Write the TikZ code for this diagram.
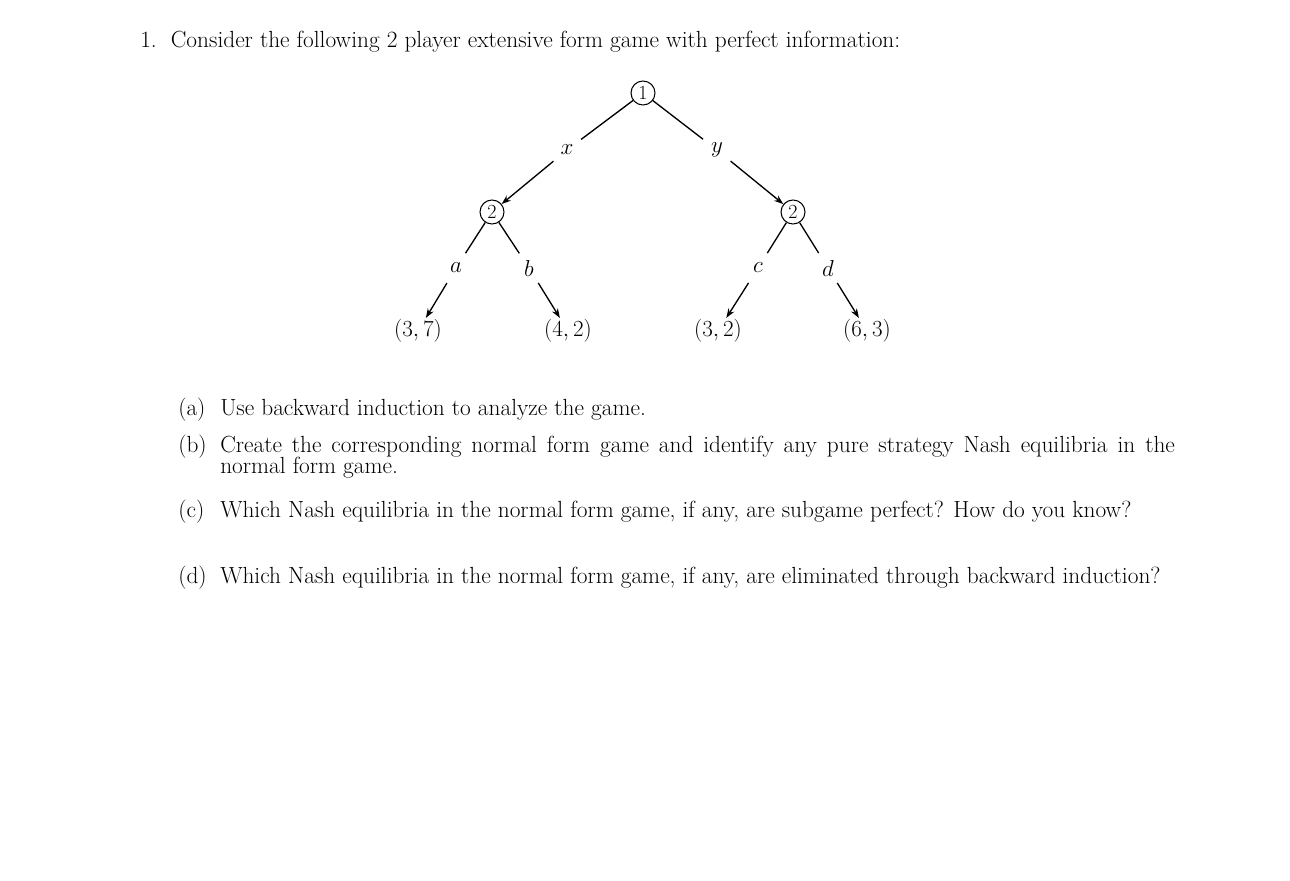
\documentclass[tikz,border=0pt]{standalone}
\usetikzlibrary{arrows.meta}
\begin{document}
\begin{tikzpicture}[x=0.75pt,y=-0.75pt,
  pl/.style={circle,draw,line width=0.8pt,inner sep=0pt,minimum size=18pt,font=\fontsize{15}{17}\selectfont},
  lab/.style={circle,inner sep=0pt,minimum size=26pt,font=\fontsize{16}{18}\selectfont},
  leaf/.style={inner sep=1pt,font=\fontsize{17}{19}\selectfont},
  txt/.style={anchor=north west,inner sep=0pt,align=justify,font=\fontsize{17.5}{15.9}\selectfont},
  arr/.style={-{Stealth[length=7pt,width=5pt]},line width=1pt},
  ln/.style={line width=1pt}]
\useasboundingbox (0,0) rectangle (1290,881);
\node[txt,anchor=base west] (t1) at (140,48) {1.\ \ Consider the following 2 player extensive form game with perfect information:};
\node[pl] (n1) at (643,93) {1};
\node[pl] (n2l) at (492,212) {2};
\node[pl] (n2r) at (793,212) {2};
\node[lab] (lx) at (567,150) {$x$};
\node[lab] (ly) at (717,150) {$y$};
\node[lab] (la) at (456,268) {$a$};
\node[lab] (lb) at (529,268) {$b$};
\node[lab] (lc) at (758,268) {$c$};
\node[lab] (ld) at (828,268) {$d$};
\node[leaf] (o1) at (418,331) {$(3,7)$};
\node[leaf] (o2) at (568,331) {$(4,2)$};
\node[leaf] (o3) at (718,331) {$(3,2)$};
\node[leaf] (o4) at (867,331) {$(6,3)$};
\draw[ln] (n1)--(lx); \draw[arr] (lx)--(n2l);
\draw[ln] (n1)--(ly); \draw[arr] (ly)--(n2r);
\draw[ln] (n2l)--(la); \draw[arr] (la)--(o1);
\draw[ln] (n2l)--(lb); \draw[arr] (lb)--(o2);
\draw[ln] (n2r)--(lc); \draw[arr] (lc)--(o3);
\draw[ln] (n2r)--(ld); \draw[arr] (ld)--(o4);
\node[txt,anchor=base west] (ia) at (178,415) {(a)};
\node[txt,anchor=base west] (ta) at (220,415) {Use backward induction to analyze the game.};
\node[txt,anchor=base west] (ib) at (178,452) {(b)};
\node[txt,anchor=base west,text width=716pt] (tb) at (220,452) {Create the corresponding normal form game and identify any pure strategy Nash equilibria in the normal form game.};
\node[txt,anchor=base west] (ic) at (178,517) {(c)};
\node[txt,anchor=base west,text width=716pt] (tc) at (220,517) {Which Nash equilibria in the normal form game, if any, are subgame perfect? How do you know?};
\node[txt,anchor=base west] (id) at (178,583) {(d)};
\node[txt,anchor=base west,text width=716pt] (td) at (220,583) {Which Nash equilibria in the normal form game, if any, are eliminated through backward in\-duction?};
\end{tikzpicture}
\end{document}
